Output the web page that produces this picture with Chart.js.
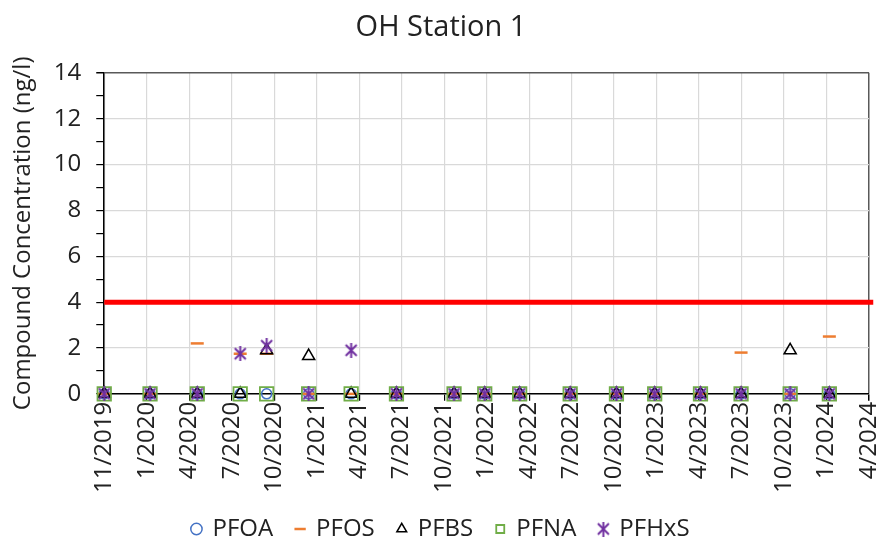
<!DOCTYPE html>
<html>
<head>
<meta charset="utf-8">
<script src="https://cdn.jsdelivr.net/npm/chart.js@4/dist/chart.umd.min.js"></script>
<style>
  html, body { margin: 0; padding: 0; background: #fff; }
  #wrap { width: 882px; height: 538px; }
</style>
</head>
<body>
<div id="wrap"><canvas id="chart" width="882" height="538"></canvas></div>
<script>
// axis starts on this day, ticks every 90 days (Excel date axis)
const axisStart = '2019-11-01';
const tickLabels = ['11/2019', '1/2020', '4/2020', '7/2020', '10/2020', '1/2021', '4/2021',
  '7/2021', '10/2021', '1/2022', '4/2022', '7/2022', '10/2022', '1/2023', '4/2023',
  '7/2023', '10/2023', '1/2024', '4/2024'];

// sampling dates
const sampleDates = ['2019-11-01', '2020-02-06', '2020-05-16', '2020-08-15', '2020-10-10',
  '2021-01-07', '2021-04-07', '2021-07-12', '2021-11-11', '2022-01-15', '2022-03-30',
  '2022-07-15', '2022-10-21', '2023-01-10', '2023-04-17', '2023-07-12', '2023-10-24',
  '2024-01-15'];

// concentrations in ng/l (non-detects shown as 0)
const pfoa  = [0, 0, 0,    0,    0,    0,    0,   0, 0, 0, 0, 0, 0, 0, 0, 0,   0,   0];
const pfos  = [0, 0, 2.2,  1.75, 1.75, 0,    0,   0, 0, 0, 0, 0, 0, 0, 0, 1.8, 0,   2.5];
const pfbs  = [0, 0, 0,    0,    1.9,  1.65, 0,   0, 0, 0, 0, 0, 0, 0, 0, 0,   1.9, 0];
const pfna  = [0, 0, 0,    0,    0,    0,    0,   0, 0, 0, 0, 0, 0, 0, 0, 0,   0,   0];
const pfhxs = [0, 0, 0,    1.75, 2.1,  0,    1.9, 0, 0, 0, 0, 0, 0, 0, 0, 0,   0,   0];

const threshold = 4;

const dayMs = 86400000;
function dayOffset(d) {
  return (Date.parse(d) - Date.parse(axisStart)) / dayMs;
}
const xMax = (tickLabels.length - 1) * 90;

function toPoints(values) {
  return values.map((v, i) => ({ x: dayOffset(sampleDates[i]), y: v }));
}

// Excel style star marker: X with a vertical bar
function makeStar(size, color, lw) {
  const c = document.createElement('canvas');
  c.width = size; c.height = size;
  const g = c.getContext('2d');
  g.strokeStyle = color;
  g.lineWidth = lw;
  const m = 2;
  g.beginPath();
  g.moveTo(m, m); g.lineTo(size - m, size - m);
  g.moveTo(size - m, m); g.lineTo(m, size - m);
  g.moveTo(size / 2, 0); g.lineTo(size / 2, size);
  g.stroke();
  return c;
}

Chart.defaults.font.family = "'Open Sans', sans-serif";
Chart.defaults.color = '#333';

const ctx = document.getElementById('chart').getContext('2d');
new Chart(ctx, {
  type: 'scatter',
  data: {
    datasets: [
      { label: 'PFOA', data: toPoints(pfoa), pointStyle: 'circle', pointRadius: 5,
        borderColor: '#4472C4', backgroundColor: 'rgba(0,0,0,0)', pointBorderWidth: 1.5, order: 5, clip: false },
      { label: 'PFOS', data: toPoints(pfos), pointStyle: 'line', pointRadius: 6.5,
        borderColor: '#ED7D31', backgroundColor: '#ED7D31', pointBorderWidth: 2.5, order: 4, clip: false },
      { label: 'PFBS', data: toPoints(pfbs), pointStyle: 'triangle', pointRadius: 7,
        borderColor: '#000', backgroundColor: 'rgba(0,0,0,0)', pointBorderWidth: 1.5, order: 3, clip: false },
      { label: 'PFNA', data: toPoints(pfna), pointStyle: 'rect', pointRadius: 9.5,
        borderColor: '#70AD47', backgroundColor: 'rgba(0,0,0,0)', pointBorderWidth: 1.8, order: 2, clip: false },
      { label: 'PFHxS', data: toPoints(pfhxs), pointStyle: makeStar(15, '#7030A0', 2),
        borderColor: '#7030A0', backgroundColor: '#7030A0', order: 1, clip: false },
      { type: 'line', label: 'limit', data: [{ x: 0, y: threshold }, { x: xMax + 9, y: threshold }],
        borderColor: '#FF0000', borderWidth: 5, pointRadius: 0, order: 0, clip: false }
    ]
  },
  options: {
    responsive: false,
    animation: false,
    layout: { padding: { left: 0, right: 0, top: 0, bottom: -13 } },
    plugins: {
      title: {
        display: true,
        text: 'OH Station 1',
        color: '#222',
        font: { size: 29, weight: 'normal' },
        padding: { top: 10, bottom: 28 }
      },
      legend: {
        position: 'bottom',
        labels: {
          usePointStyle: true,
          boxWidth: 8,
          boxHeight: 8,
          padding: 23,
          color: '#222',
          font: { size: 24 },
          filter: item => item.text !== 'limit',
          sort: (a, b) => a.datasetIndex - b.datasetIndex
        }
      },
      tooltip: { enabled: false }
    },
    scales: {
      x: {
        type: 'linear',
        min: 0,
        max: xMax,
        border: { color: '#000', width: 1.5 },
        grid: {
          color: c => (c.tick && c.tick.value === xMax) ? '#595959' : '#d9d9d9',
          lineWidth: c => (c.tick && c.tick.value === xMax) ? 1.5 : 1.2,
          tickColor: '#000',
          tickLength: 7
        },
        ticks: {
          stepSize: 90,
          autoSkip: false,
          minRotation: 90,
          maxRotation: 90,
          padding: 1,
          color: '#222',
          font: { size: 24 },
          callback: (v, i) => tickLabels[i]
        },
        // the last rotated label only needs a little room on the right
        afterFit: s => { s.paddingRight = 13; }
      },
      y: {
        min: 0,
        max: 14,
        border: { color: '#000', width: 1.5 },
        grid: {
          color: c => c.tick.value === 14 ? '#595959' : (c.tick.value % 2 === 0 ? '#d9d9d9' : 'rgba(0,0,0,0)'),
          lineWidth: c => c.tick.value === 14 ? 1.5 : 1.2,
          tickColor: '#000',
          tickLength: 8
        },
        ticks: {
          stepSize: 1,
          autoSkip: false,
          padding: 15,
          color: '#222',
          font: { size: 24 },
          callback: v => v % 2 === 0 ? v : ''
        },
        title: {
          display: true,
          text: 'Compound Concentration (ng/l)',
          color: '#222',
          font: { size: 24 },
          padding: { top: 9, bottom: 1 }
        }
      }
    }
  }
});
</script>
</body>
</html>
